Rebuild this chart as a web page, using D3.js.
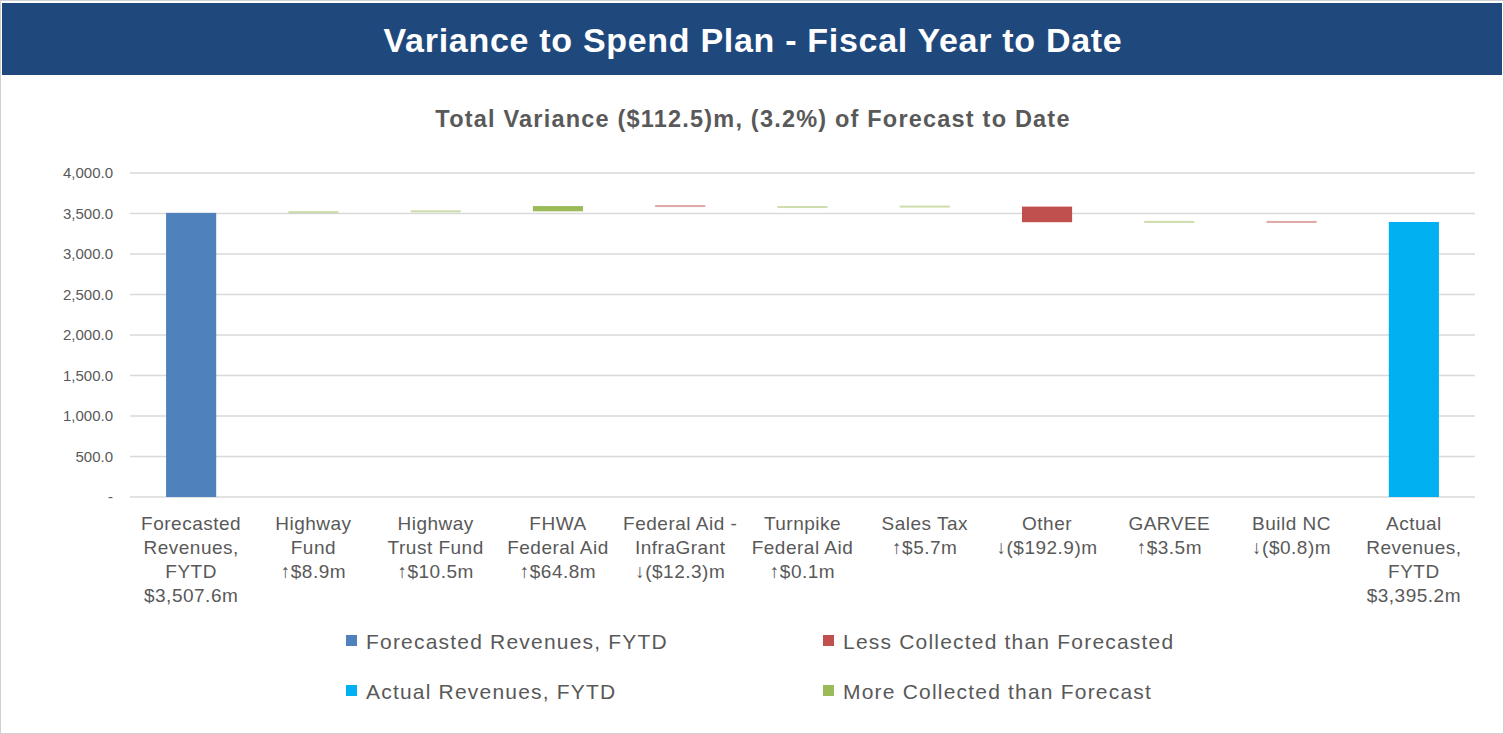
<!DOCTYPE html>
<html>
<head>
<meta charset="utf-8">
<script src="https://cdn.jsdelivr.net/npm/d3@7"></script>
<style>
  body { margin: 0; background: #fff; font-family: "Liberation Sans", Arial, sans-serif; }
  svg text { font-family: "Liberation Sans", Arial, sans-serif; }
</style>
</head>
<body>
<svg id="chart" width="1504" height="734"></svg>
<script>
const categories = [
  ['Forecasted', 'Revenues,', 'FYTD', '$3,507.6m'],
  ['Highway', 'Fund', '\u2191$8.9m'],
  ['Highway', 'Trust Fund', '\u2191$10.5m'],
  ['FHWA', 'Federal Aid', '\u2191$64.8m'],
  ['Federal Aid -', 'InfraGrant', '\u2193($12.3)m'],
  ['Turnpike', 'Federal Aid', '\u2191$0.1m'],
  ['Sales Tax', '\u2191$5.7m'],
  ['Other', '\u2193($192.9)m'],
  ['GARVEE', '\u2191$3.5m'],
  ['Build NC', '\u2193($0.8)m'],
  ['Actual', 'Revenues,', 'FYTD', '$3,395.2m']
];
const forecastTotal = 3507.6;
const actualTotal = 3395.2;
const changes = [8.9, 10.5, 64.8, -12.3, 0.1, 5.7, -192.9, 3.5, -0.8];
const yTicks = [0, 500, 1000, 1500, 2000, 2500, 3000, 3500, 4000];
const legendItems = [
  { label: 'Forecasted Revenues, FYTD', color: '#4F81BD' },
  { label: 'Less Collected than Forecasted', color: '#C0504D' },
  { label: 'Actual Revenues, FYTD', color: '#00B0F0' },
  { label: 'More Collected than Forecast', color: '#9BBB59' }
];

const w = 1504;
const h = 734;
const svg = d3.select('#chart');

// page frame and header
svg.append('rect')
  .attr('x', 0.5).attr('y', 0.5)
  .attr('width', w - 1).attr('height', h - 1)
  .attr('fill', '#fff')
  .attr('stroke', '#D0D0D0');

svg.append('rect')
  .attr('x', 2).attr('y', 3)
  .attr('width', w - 4).attr('height', 72)
  .attr('fill', '#1F497D');

svg.append('text')
  .attr('x', 753)
  .attr('y', 52)
  .attr('text-anchor', 'middle')
  .attr('fill', '#fff')
  .attr('font-size', 34)
  .attr('font-weight', 'bold')
  .attr('letter-spacing', 0.7)
  .text('Variance to Spend Plan - Fiscal Year to Date');

svg.append('text')
  .attr('x', 753)
  .attr('y', 127)
  .attr('text-anchor', 'middle')
  .attr('fill', '#595959')
  .attr('font-size', 23.5)
  .attr('font-weight', 'bold')
  .attr('letter-spacing', 1.2)
  .text('Total Variance ($112.5)m, (3.2%) of Forecast to Date');

// build waterfall bars
const bars = [];
bars.push({ start: 0, end: forecastTotal, color: '#4F81BD' });
let running = forecastTotal;
changes.forEach(c => {
  bars.push({ start: running, end: running + c, color: c >= 0 ? '#9BBB59' : '#C0504D', small: true });
  running += c;
});
bars.push({ start: 0, end: actualTotal, color: '#00B0F0' });

const plotLeft = 130;
const plotRight = 1475;
const plotTop = 173;
const plotBottom = 497;

const x = d3.scaleBand()
  .domain(d3.range(categories.length))
  .range([plotLeft, plotRight])
  .paddingInner(0.59)
  .paddingOuter(0.295);

const y = d3.scaleLinear()
  .domain([0, 4000])
  .range([plotBottom, plotTop]);

// gridlines
svg.append('g')
  .selectAll('line')
  .data(yTicks)
  .enter()
  .append('line')
  .attr('x1', plotLeft)
  .attr('x2', plotRight)
  .attr('y1', d => y(d))
  .attr('y2', d => y(d))
  .attr('stroke', '#D9D9D9')
  .attr('stroke-width', 1.3);

// y axis labels
const yAxis = d3.axisLeft(y)
  .tickValues(yTicks)
  .tickSize(0)
  .tickPadding(0)
  .tickFormat(v => v === 0 ? '-' : d3.format(',.1f')(v));

const yg = svg.append('g')
  .attr('transform', `translate(${plotLeft - 17}, 0)`)
  .call(yAxis);
yg.select('.domain').remove();
yg.selectAll('text')
  .attr('fill', '#595959')
  .attr('font-size', 15)
  .attr('font-family', '"Liberation Sans", Arial, sans-serif');

// bars
const tiny = d => d.small && Math.abs(y(d.start) - y(d.end)) < 2;
svg.append('g')
  .selectAll('rect')
  .data(bars)
  .enter()
  .append('rect')
  .attr('x', (_, i) => x(i))
  .attr('width', x.bandwidth())
  .attr('y', d => y(Math.max(d.start, d.end)) - (tiny(d) ? 1 : 0))
  .attr('height', d => Math.max(Math.abs(y(d.start) - y(d.end)), 2))
  .attr('fill', d => d.color)
  .attr('fill-opacity', d => tiny(d) ? 0.5 : 1);

// category labels
const catG = svg.append('g')
  .selectAll('text')
  .data(categories)
  .enter()
  .append('text')
  .attr('text-anchor', 'middle')
  .attr('fill', '#595959')
  .attr('font-size', 19)
  .attr('letter-spacing', 0.5);

catG.selectAll('tspan')
  .data((d, i) => d.map(line => ({ line, i })))
  .enter()
  .append('tspan')
  .attr('x', d => x(d.i) + x.bandwidth() / 2)
  .attr('y', (d, j) => 530 + j * 24)
  .text(d => d.line);

// legend
const legend = svg.append('g')
  .selectAll('g')
  .data(legendItems)
  .enter()
  .append('g')
  .attr('transform', (_, i) => `translate(${i % 2 === 0 ? 346 : 823}, ${i < 2 ? 641 : 691})`);

legend.append('rect')
  .attr('x', 0)
  .attr('y', -6)
  .attr('width', 11)
  .attr('height', 11)
  .attr('fill', d => d.color);

legend.append('text')
  .attr('x', 20)
  .attr('y', 8)
  .attr('fill', '#595959')
  .attr('font-size', 21)
  .attr('letter-spacing', 1.2)
  .text(d => d.label);
</script>
</body>
</html>
